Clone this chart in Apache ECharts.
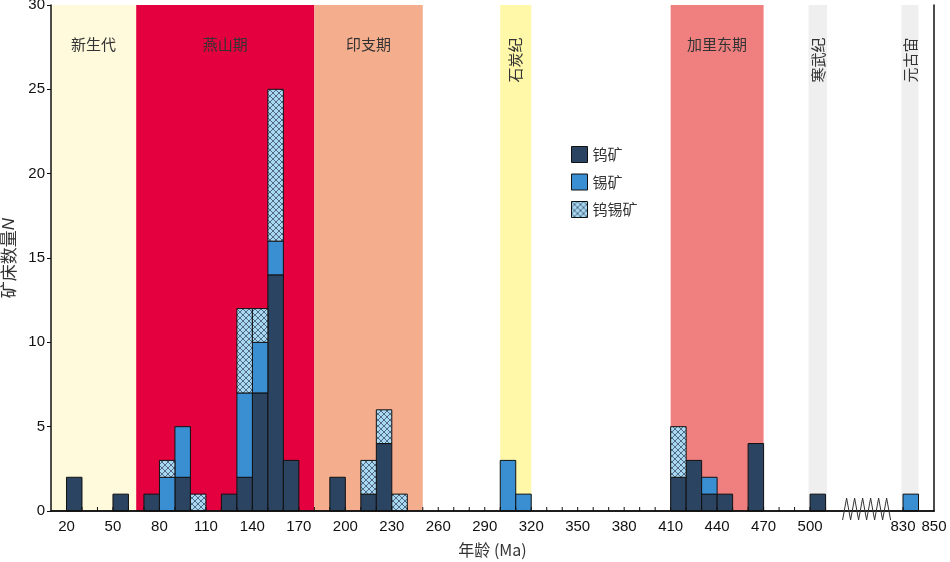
<!DOCTYPE html>
<html>
<head>
<meta charset="utf-8">
<script src="https://cdn.jsdelivr.net/npm/echarts@6/dist/echarts.min.js"></script>
<style>
  html, body { margin: 0; padding: 0; background: #fff; }
  #chart { width: 950px; height: 562px; }
</style>
</head>
<body>
<div id="chart"></div>
<script>
// ages of the 10 Ma bins (left edge), counts per mineral type
var binStarts = [20, 50, 70, 80, 90, 100, 120, 130, 140, 150, 160, 190, 210, 220, 230, 300, 310, 410, 420, 430, 440, 460, 500, 830]
var tungsten  = [2, 1, 1, 0, 2, 0, 1, 2, 7, 14, 3, 2, 1, 4, 0, 0, 0, 2, 3, 1, 1, 4, 1, 0]
var tin       = [0, 0, 0, 2, 3, 0, 0, 5, 3, 2, 0, 0, 0, 0, 0, 3, 1, 0, 0, 1, 0, 0, 0, 1]
var tungTin   = [0, 0, 0, 1, 0, 1, 0, 5, 2, 9, 0, 0, 2, 2, 1, 0, 0, 3, 0, 0, 0, 0, 0, 0]

// geological periods shown as background bands
var periodNames = ['新生代', '燕山期', '印支期', '石炭纪', '加里东期', '寒武纪', '元古宙']
var periodStart = [10, 65, 180, 300, 410, 499, 829]
var periodEnd   = [65, 180, 250, 320, 470, 511, 840]
var periodColors = ['#fffadc', '#e4003e', '#f4ae8d', '#fff8a9', '#f08080', '#efefef', '#efefef']
var periodVertical = [false, false, false, true, false, true, true]

var tickLabels = [20, 50, 80, 110, 140, 170, 200, 230, 260, 290, 320, 350, 380, 410, 440, 470, 500, 830, 850]
var seriesNames = ['钨矿', '锡矿', '钨锡矿']
var seriesColors = ['#2b4462', '#3a8fd2', '#a9d9f2']

// axis is broken between ~520 and ~820 Ma
var breakOffset = 270
function toAxis(age) {
    return age >= 800 ? age - breakOffset : age
}
function fromAxis(v) {
    return v >= 530 ? v + breakOffset : v
}

var tickAges = []
for (var a = 20; a <= 510; a += 10) tickAges.push(a)
tickAges.push(830, 840)

function makeHatch() {
    var c = document.createElement('canvas')
    c.width = 6
    c.height = 6
    var ctx = c.getContext('2d')
    ctx.fillStyle = seriesColors[2]
    ctx.fillRect(0, 0, 6, 6)
    ctx.strokeStyle = '#2a3a55'
    ctx.lineWidth = 0.7
    ctx.beginPath()
    ctx.moveTo(0, 0); ctx.lineTo(6, 6)
    ctx.moveTo(6, 0); ctx.lineTo(0, 6)
    ctx.moveTo(-1, 5); ctx.lineTo(1, 7)
    ctx.moveTo(5, -1); ctx.lineTo(7, 1)
    ctx.stroke()
    return { image: c, repeat: 'repeat' }
}
var hatch = makeHatch()
var fills = [seriesColors[0], seriesColors[1], hatch]

function barSeries(idx, values, bases) {
    var data = []
    for (var i = 0; i < binStarts.length; i++) {
        if (values[i] > 0) data.push([toAxis(binStarts[i]), bases[i], bases[i] + values[i]])
    }
    return {
        type: 'custom',
        name: seriesNames[idx],
        itemStyle: { color: fills[idx] },
        z: 5,
        encode: { x: 0, y: [1, 2] },
        data: data,
        renderItem: function (params, api) {
            var p0 = api.coord([api.value(0), api.value(1)])
            var p1 = api.coord([api.value(0) + 10, api.value(2)])
            return {
                type: 'rect',
                shape: { x: p0[0], y: p1[1], width: p1[0] - p0[0], height: p0[1] - p1[1] },
                style: { fill: fills[idx], stroke: '#111', lineWidth: 1 }
            }
        }
    }
}

var zeros = binStarts.map(function () { return 0 })
var base2 = tungsten.slice()
var base3 = tungsten.map(function (v, i) { return v + tin[i] })

var bandData = periodNames.map(function (n, i) {
    return [toAxis(periodStart[i]), toAxis(periodEnd[i]), i]
})

var bandFont = '15px "Noto Sans CJK SC"'
var bandSeries = {
    type: 'custom',
    silent: true,
    z: 1,
    data: bandData,
    encode: { x: [0, 1] },
    renderItem: function (params, api) {
        var i = api.value(2)
        var p0 = api.coord([api.value(0), 30])
        var p1 = api.coord([api.value(1), 0])
        var cx = (p0[0] + p1[0]) / 2
        var label
        if (periodVertical[i]) {
            label = {
                type: 'text', x: cx, y: p0[1] + 55, rotation: Math.PI / 2,
                style: { text: periodNames[i], fill: '#333', font: bandFont, align: 'center', verticalAlign: 'middle' }
            }
        } else {
            label = {
                type: 'text', x: cx, y: p0[1] + 39,
                style: { text: periodNames[i], fill: '#333', font: bandFont, align: 'center', verticalAlign: 'middle' }
            }
        }
        return {
            type: 'group',
            children: [
                { type: 'rect', shape: { x: p0[0], y: p0[1], width: p1[0] - p0[0], height: p1[1] - p0[1] }, style: { fill: periodColors[i] } },
                label
            ]
        }
    }
}

var tickSeries = {
    type: 'custom',
    silent: true,
    z: 8,
    data: tickAges.map(function (a) { return [toAxis(a)] }),
    encode: { x: 0 },
    renderItem: function (params, api) {
        var p = api.coord([api.value(0), 0])
        return { type: 'line', shape: { x1: p[0], y1: p[1], x2: p[0], y2: p[1] - 4 }, style: { stroke: '#111', lineWidth: 1 } }
    }
}

var axisFont = { fontFamily: 'Liberation Sans', fontSize: 15, color: '#111' }
var lineStyle = { color: '#111', width: 1.5 }

var chart = echarts.init(document.getElementById('chart'))
var option = {
    animation: false,
    grid: { left: 51, right: 16, top: 5, bottom: 51, outerBoundsMode: 'none', containLabel: false },
    legend: {
        orient: 'vertical',
        left: 566, top: 141,
        itemWidth: 16, itemHeight: 16, itemGap: 10.5,
        icon: 'rect',
        selectedMode: false,
        textStyle: { fontFamily: 'Noto Sans CJK SC', fontSize: 15, color: '#333' },
        data: seriesNames.map(function (n, i) {
            return { name: n, itemStyle: { color: fills[i], borderColor: '#111', borderWidth: 1 } }
        })
    },
    xAxis: [{
        type: 'value', min: 10, max: toAxis(850), interval: 10,
        z: 10,
        name: '年龄 (Ma)', nameLocation: 'middle', nameGap: 31,
        nameTextStyle: { fontFamily: 'Noto Sans CJK SC', fontSize: 16, color: '#333' },
        axisLine: { lineStyle: lineStyle },
        axisTick: { show: false },
        splitLine: { show: false },
        axisLabel: Object.assign({
            margin: 8,
            formatter: function (v) {
                var age = fromAxis(v)
                return tickLabels.indexOf(age) >= 0 ? String(age) : ''
            }
        }, axisFont)
    }, {
        type: 'value', min: 10, max: toAxis(850), position: 'top', z: 10,
        axisLine: { show: true, lineStyle: lineStyle },
        axisTick: { show: false }, axisLabel: { show: false }, splitLine: { show: false }
    }],
    yAxis: [{
        type: 'value', min: 0, max: 30, interval: 5,
        z: 10,
        name: '矿床数量{i|N}', nameLocation: 'middle', nameGap: 30,
        nameTextStyle: {
            fontFamily: 'Noto Sans CJK SC', fontSize: 17, color: '#333',
            rich: { i: { fontFamily: 'Liberation Sans', fontStyle: 'italic', fontSize: 17, color: '#333' } }
        },
        axisLine: { show: true, lineStyle: lineStyle },
        axisTick: { show: true, length: 4, lineStyle: { color: '#111' } },
        splitLine: { show: false },
        axisLabel: Object.assign({ margin: 6 }, axisFont)
    }, {
        type: 'value', min: 0, max: 30, position: 'right', z: 10,
        axisLine: { show: true, lineStyle: lineStyle },
        axisTick: { show: false }, axisLabel: { show: false }, splitLine: { show: false }
    }],
    series: [
        bandSeries,
        barSeries(0, tungsten, zeros),
        barSeries(1, tin, base2),
        barSeries(2, tungTin, base3),
        tickSeries
    ]
}
chart.setOption(option)

// zigzag marking the axis break
var zz = []
var zStart = chart.convertToPixel({ xAxisIndex: 0, yAxisIndex: 0 }, [toAxis(521), 0])
var zEnd = chart.convertToPixel({ xAxisIndex: 0, yAxisIndex: 0 }, [toAxis(552), 0])
var steps = 12
for (var k = 0; k <= steps; k++) {
    var x = zStart[0] + (zEnd[0] - zStart[0]) * k / steps
    var y = zStart[1] + (k % 2 ? -13 : 9)
    zz.push([x, y])
}
chart.setOption({
    graphic: [{
        type: 'polyline', z: 20,
        shape: { points: zz },
        style: { stroke: '#333', lineWidth: 1, fill: null }
    }]
})
</script>
</body>
</html>
